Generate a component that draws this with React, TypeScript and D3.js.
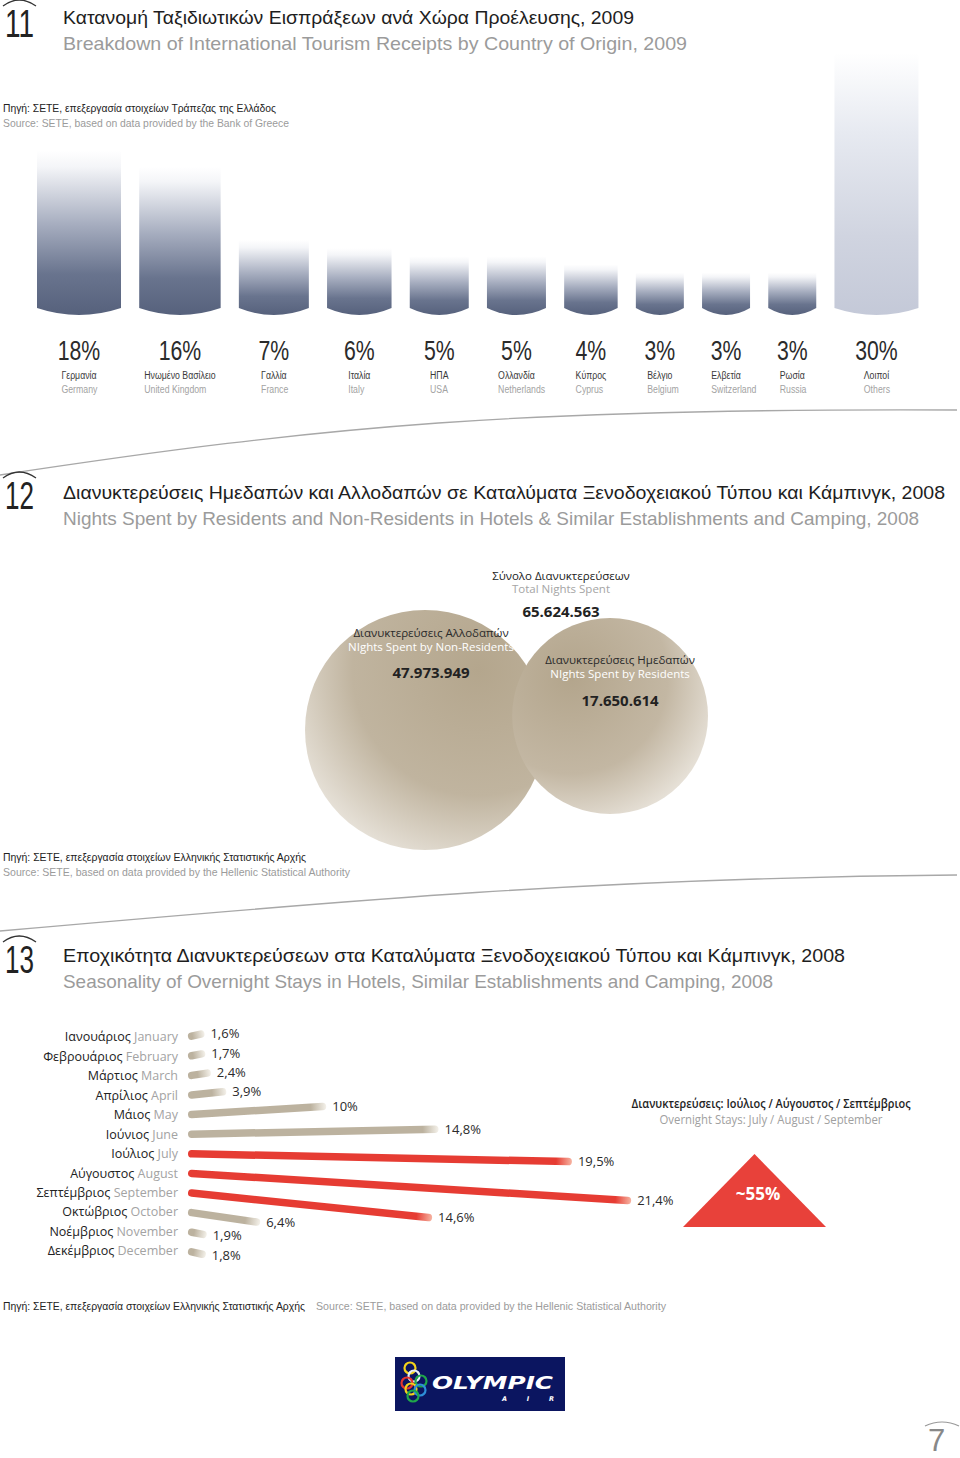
import React, { useLayoutEffect, useRef } from 'react';
import * as d3 from 'd3';

// ---- chart 11: receipts by country of origin, 2009 (%)
const countriesGr = ['Γερμανία', 'Ηνωμένο Βασίλειο', 'Γαλλία', 'Ιταλία', 'ΗΠΑ', 'Ολλανδία', 'Κύπρος', 'Βέλγιο', 'Ελβετία', 'Ρωσία', 'Λοιποί'];
const countriesEn = ['Germany', 'United Kingdom', 'France', 'Italy', 'USA', 'Netherlands', 'Cyprus', 'Belgium', 'Switzerland', 'Russia', 'Others'];
const receiptShare = [18, 16, 7, 6, 5, 5, 4, 3, 3, 3, 30];

// ---- chart 12: nights spent, 2008
const nightsTotal = 65624563;
const nightsNonResidents = 47973949;
const nightsResidents = 17650614;

// ---- chart 13: seasonality of overnight stays, 2008 (%)
const monthsGr = ['Ιανουάριος', 'Φεβρουάριος', 'Μάρτιος', 'Απρίλιος', 'Μάιος', 'Ιούνιος', 'Ιούλιος', 'Αύγουστος', 'Σεπτέμβριος', 'Οκτώβριος', 'Νοέμβριος', 'Δεκέμβριος'];
const monthsEn = ['January', 'February', 'March', 'April', 'May', 'June', 'July', 'August', 'September', 'October', 'November', 'December'];
const monthShare = [1.6, 1.7, 2.4, 3.9, 10, 14.8, 19.5, 21.4, 14.6, 6.4, 1.9, 1.8];
const peakMonths = ['July', 'August', 'September'];

const W = 960;
const H = 1458;

const locale = d3.formatLocale({ decimal: ',', thousands: '.', grouping: [3], currency: ['€', ''] });
const fmtInt = locale.format(',d');
const fmtPct = locale.format('.1~f');

const gill = "'Liberation Sans', Arial, sans-serif";
const myriad = "'Open Sans', 'Noto Sans', sans-serif";

type HeaderProps = { num: string; y: number; numTop: number; gr: string; en: string; grLen: number; enLen: number };

const Header = ({ num, y, numTop, gr, en, grLen, enLen }: HeaderProps) => (
    <g>
        <path d={`M3,${numTop - 4} Q19,${numTop - 16} 36,${numTop - 4}`} fill='none' stroke='#333' strokeWidth={1.3} />
        <text x={5} y={numTop + 27} fontFamily={gill} fontSize={38} fill='#222' textLength={29} lengthAdjust='spacingAndGlyphs'>
            {num}
        </text>
        <text x={63} y={y} fontFamily={gill} fontSize={18.5} fill='#1e1e1e' textLength={grLen} lengthAdjust='spacingAndGlyphs'>
            {gr}
        </text>
        <text x={63} y={y + 26} fontFamily={gill} fontSize={18.5} fill='#9b9b9b' textLength={enLen} lengthAdjust='spacingAndGlyphs'>
            {en}
        </text>
    </g>
);

const Source = ({ x, y, text, len, color }: { x: number; y: number; text: string; len: number; color: string }) => (
    <text x={x} y={y} fontFamily={gill} fontSize={11} fill={color} textLength={len} lengthAdjust='spacingAndGlyphs'>
        {text}
    </text>
);

const App = () => {
    const grRefs = useRef<(SVGTextElement | null)[]>([]);
    const enRefs = useRef<(SVGTextElement | null)[]>([]);

    useLayoutEffect(() => {
        // english name starts where the greek name starts
        grRefs.current.forEach((el, i) => {
            const en = enRefs.current[i];
            if (!el || !en) return;
            const w = el.getComputedTextLength();
            en.setAttribute('x', String(-w / 2));
        });
    }, []);

    // ---------- chart 11 layout
    const barBottom = 315;
    const curve = 7;
    const gap = 18.2;
    const wScale = d3.scaleLinear().domain([3, 7, 18]).range([48, 70, 84]).clamp(true);
    const hScale = d3.scaleLinear().domain([0, 30]).range([18, 262]);
    let cursor = 37;
    const bars = receiptShare.map((v, i) => {
        const w = wScale(v);
        const x = cursor;
        cursor += w + gap;
        const h = hScale(v);
        const p = d3.path();
        p.moveTo(x, barBottom - h);
        p.lineTo(x + w, barBottom - h);
        p.lineTo(x + w, barBottom - curve);
        p.quadraticCurveTo(x + w / 2, barBottom + curve, x, barBottom - curve);
        p.closePath();
        return { i, v, x, w, cx: x + w / 2, d: p.toString(), other: countriesEn[i] === 'Others' };
    });

    // ---------- chart 12 layout
    const rScale = d3.scaleLinear().domain([0, nightsTotal]).range([85, 133]);
    const rBig = rScale(nightsNonResidents);
    const rSmall = rScale(nightsResidents);
    const bigC = { x: 305 + rBig, y: 730 };
    const smallC = { x: bigC.x + rBig + rSmall - 33, y: 716 };

    // ---------- chart 13 layout
    const x0 = 188;
    const thick = 7.5;
    const yRow = d3.scalePoint<string>().domain(monthsEn).range([1037, 1251]);
    const lenScale = d3.scalePow().exponent(1.6).domain([0, d3.max(monthShare) as number]).range([10, 444]);
    const pivotY = ((yRow('June') as number) + (yRow('July') as number)) / 2;
    const focal = 470;
    const rays = monthShare.map((v, i) => {
        const y = yRow(monthsEn[i]) as number;
        const a = Math.atan2(y - pivotY, focal);
        const len = lenScale(v);
        const c = Math.cos(a);
        const s = Math.sin(a);
        const half = thick / 2;
        return {
            i,
            v,
            y,
            sx: x0 + half * c,
            sy: y + half * s,
            ex: x0 + (len - half) * c,
            ey: y + (len - half) * s,
            tx: x0 + len * c,
            ty: y + len * s,
            len,
            peak: peakMonths.includes(monthsEn[i]),
        };
    });
    const peakSum = d3.sum(rays.filter(r => r.peak), r => r.v);

    const tri = { cx: 754.5, top: 1154, base: 1227, half: 71.5 };

    return (
        <svg width={W} height={H} viewBox={`0 0 ${W} ${H}`} style={{ position: 'absolute', left: 0, top: 0, background: '#fff' }}>
            <defs>
                <linearGradient id='barDark' x1='0' y1='0' x2='0' y2='1'>
                    <stop offset='0' stopColor='#ffffff' />
                    <stop offset='0.1' stopColor='#f4f5f8' />
                    <stop offset='0.45' stopColor='#a6adbf' />
                    <stop offset='0.75' stopColor='#69748e' />
                    <stop offset='1' stopColor='#56617c' />
                </linearGradient>
                <linearGradient id='barLight' x1='0' y1='0' x2='0' y2='1'>
                    <stop offset='0' stopColor='#ffffff' />
                    <stop offset='0.3' stopColor='#e7eaf1' />
                    <stop offset='0.7' stopColor='#d0d4e0' />
                    <stop offset='1' stopColor='#c4c9d8' />
                </linearGradient>
                <radialGradient id='circBig' cx='0.72' cy='0.25' r='0.95'>
                    <stop offset='0' stopColor='#b4a68d' />
                    <stop offset='0.55' stopColor='#c0b49f' />
                    <stop offset='1' stopColor='#f4f1ec' />
                </radialGradient>
                <radialGradient id='circSmall' cx='0.3' cy='0.3' r='0.9'>
                    <stop offset='0' stopColor='#b3a58c' />
                    <stop offset='0.55' stopColor='#c3b7a3' />
                    <stop offset='1' stopColor='#f5f2ed' />
                </radialGradient>
                {rays.map(r => (
                    <linearGradient key={r.i} id={`ray${r.i}`} gradientUnits='userSpaceOnUse' x1={r.sx} y1={r.sy} x2={r.tx} y2={r.ty}>
                        <stop offset='0' stopColor={r.peak ? '#e63c33' : '#bcb29f'} />
                        <stop offset={Math.max(0, 1 - 16 / r.len)} stopColor={r.peak ? '#e63c33' : '#bcb29f'} />
                        <stop offset='1' stopColor={r.peak ? '#f6b4a2' : '#f4f1ea'} />
                    </linearGradient>
                ))}
            </defs>

            {/* ===== 11 ===== */}
            <Header
                num='11'
                y={24}
                numTop={10}
                gr='Κατανομή Ταξιδιωτικών Εισπράξεων ανά Χώρα Προέλευσης, 2009'
                en='Breakdown of International Tourism Receipts by Country of Origin, 2009'
                grLen={571}
                enLen={624}
            />
            <Source x={3} y={112} text='Πηγή: ΣΕΤΕ, επεξεργασία στοιχείων Τράπεζας της Ελλάδος' len={273} color='#222' />
            <Source x={3} y={127} text='Source: SETE, based on data provided by the Bank of Greece' len={286} color='#9b9b9b' />

            {bars.map(b => (
                <path key={b.i} d={b.d} fill={b.other ? 'url(#barLight)' : 'url(#barDark)'} />
            ))}
            {bars.map(b => (
                <g key={`l${b.i}`}>
                    <g transform={`translate(${b.cx},360) scale(0.76,1)`}>
                        <text textAnchor='middle' fontFamily={gill} fontSize={28} fill='#2b2b2b'>
                            {b.v}%
                        </text>
                    </g>
                    <g transform={`translate(${b.cx},379) scale(0.76,1)`}>
                        <text
                            ref={el => {
                                grRefs.current[b.i] = el;
                            }}
                            textAnchor='middle'
                            fontFamily={gill}
                            fontSize={11.5}
                            fill='#3a3a3a'
                        >
                            {countriesGr[b.i]}
                        </text>
                        <text
                            ref={el => {
                                enRefs.current[b.i] = el;
                            }}
                            y={14}
                            fontFamily={gill}
                            fontSize={11.5}
                            fill='#a3a3a3'
                        >
                            {countriesEn[b.i]}
                        </text>
                    </g>
                </g>
            ))}
            <path d='M0,475 C330,425 520,408 957,410' fill='none' stroke='#a8a8a8' strokeWidth={1.3} />

            {/* ===== 12 ===== */}
            <Header
                num='12'
                y={499}
                numTop={482}
                gr='Διανυκτερεύσεις Ημεδαπών και Αλλοδαπών σε Καταλύματα Ξενοδοχειακού Τύπου και Κάμπινγκ, 2008'
                en='Nights Spent by Residents and Non-Residents in Hotels & Similar Establishments and Camping, 2008'
                grLen={882}
                enLen={856}
            />
            <circle cx={bigC.x} cy={bigC.y} r={rBig} fill='url(#circBig)' />
            <circle cx={smallC.x} cy={smallC.y} r={rSmall} fill='url(#circSmall)' />

            <g fontFamily={myriad} textAnchor='middle'>
                <text x={561} y={580} fontSize={11.5} fill='#222'>Σύνολο Διανυκτερεύσεων</text>
                <text x={561} y={593} fontSize={11.5} fill='#a5a5a5'>Total Nights Spent</text>
                <text x={561} y={617} fontSize={15} fontWeight={700} fill='#222'>{fmtInt(nightsTotal)}</text>

                <text x={431} y={637} fontSize={11.5} fill='#2a2a2a'>Διανυκτερεύσεις Αλλοδαπών</text>
                <text x={431} y={651} fontSize={11.5} fill='#ffffff'>NIghts Spent by Non-Residents</text>
                <text x={431} y={678} fontSize={15} fontWeight={700} fill='#222'>{fmtInt(nightsNonResidents)}</text>

                <text x={smallC.x + 10} y={664} fontSize={11.5} fill='#2a2a2a'>Διανυκτερεύσεις Ημεδαπών</text>
                <text x={smallC.x + 10} y={678} fontSize={11.5} fill='#ffffff'>NIghts Spent by Residents</text>
                <text x={smallC.x + 10} y={706} fontSize={15} fontWeight={700} fill='#222'>{fmtInt(nightsResidents)}</text>
            </g>

            <Source x={3} y={861} text='Πηγή: ΣΕΤΕ, επεξεργασία στοιχείων Ελληνικής Στατιστικής Αρχής' len={303} color='#222' />
            <Source x={3} y={876} text='Source: SETE, based on data provided by the Hellenic Statistical Authority' len={347} color='#9b9b9b' />
            <path d='M0,931 C350,900 600,878 957,875' fill='none' stroke='#a8a8a8' strokeWidth={1.3} />

            {/* ===== 13 ===== */}
            <Header
                num='13'
                y={962}
                numTop={946}
                gr='Εποχικότητα Διανυκτερεύσεων στα Καταλύματα Ξενοδοχειακού Τύπου και Κάμπινγκ, 2008'
                en='Seasonality of Overnight Stays in Hotels, Similar Establishments and Camping, 2008'
                grLen={782}
                enLen={710}
            />

            <g fontFamily={myriad} fontSize={12.5}>
                {rays.map(r => (
                    <text key={`m${r.i}`} x={178} y={r.y} dy='0.35em' textAnchor='end'>
                        <tspan fill='#222'>{monthsGr[r.i]}</tspan>
                        <tspan fill='#a3a3a3'> {monthsEn[r.i]}</tspan>
                    </text>
                ))}
            </g>
            {rays.map(r => (
                <line
                    key={`r${r.i}`}
                    x1={r.sx}
                    y1={r.sy}
                    x2={r.ex}
                    y2={r.ey}
                    stroke={`url(#ray${r.i})`}
                    strokeWidth={thick}
                    strokeLinecap='round'
                />
            ))}
            <g fontFamily={myriad} fontSize={13} fill='#2b2b2b'>
                {rays.map(r => (
                    <text key={`v${r.i}`} x={r.tx + 6} y={r.ty} dy='0.35em'>
                        {fmtPct(r.v)}%
                    </text>
                ))}
            </g>

            <g fontFamily={myriad} textAnchor='middle'>
                <text x={771} y={1108} fontSize={12} fontWeight={600} fill='#222' textLength={279} lengthAdjust='spacingAndGlyphs'>
                    Διανυκτερεύσεις: Ιούλιος / Αύγουστος / Σεπτέμβριος
                </text>
                <text x={771} y={1124} fontSize={12} fill='#a0a0a0' textLength={223} lengthAdjust='spacingAndGlyphs'>
                    Overnight Stays: July / August / September
                </text>
            </g>
            <path
                d={`M${tri.cx},${tri.top} L${tri.cx + tri.half},${tri.base} L${tri.cx - tri.half},${tri.base} Z`}
                fill='#e8413a'
            />
            <text x={758} y={1200} textAnchor='middle' fontFamily={myriad} fontSize={17} fontWeight={700} fill='#fff'>
                ~{Math.floor(peakSum)}%
            </text>

            <Source x={3} y={1310} text='Πηγή: ΣΕΤΕ, επεξεργασία στοιχείων Ελληνικής Στατιστικής Αρχής' len={302} color='#222' />
            <Source x={316} y={1310} text='Source: SETE,  based on data provided by the Hellenic Statistical Authority' len={350} color='#9b9b9b' />

            {/* logo */}
            <rect x={395} y={1357} width={170} height={54} fill='#0b1560' />
            <g fill='none' strokeWidth={2.2}>
                <circle cx={410} cy={1368} r={5.5} stroke='#f3d21a' />
                <circle cx={414} cy={1376} r={5.5} stroke='#e9eef7' />
                <circle cx={421} cy={1381} r={5.5} stroke='#1fa64a' />
                <circle cx={407} cy={1383} r={5.5} stroke='#e5352d' />
                <circle cx={411} cy={1389} r={5.5} stroke='#f3d21a' />
                <circle cx={420} cy={1390} r={5.5} stroke='#2d8fd8' />
                <circle cx={413} cy={1396} r={5.5} stroke='#1fa64a' />
            </g>
            <text x={432} y={1389} fontFamily="'DejaVu Sans', sans-serif" fontSize={17} fontWeight={700} fontStyle='italic' fill='#fff' textLength={121} lengthAdjust='spacingAndGlyphs'>
                OLYMPIC
            </text>
            <text x={502} y={1401} fontFamily="'DejaVu Sans', sans-serif" fontSize={6.5} fontWeight={700} fontStyle='italic' fill='#fff' textLength={52} lengthAdjust='spacing'>
                A I R
            </text>

            {/* page */}
            <path d='M925,1426 Q942,1418 959,1426' fill='none' stroke='#999' strokeWidth={1.2} />
            <text x={928} y={1451} fontFamily={gill} fontSize={31} fill='#888'>
                7
            </text>
        </svg>
    );
};

export default App;
